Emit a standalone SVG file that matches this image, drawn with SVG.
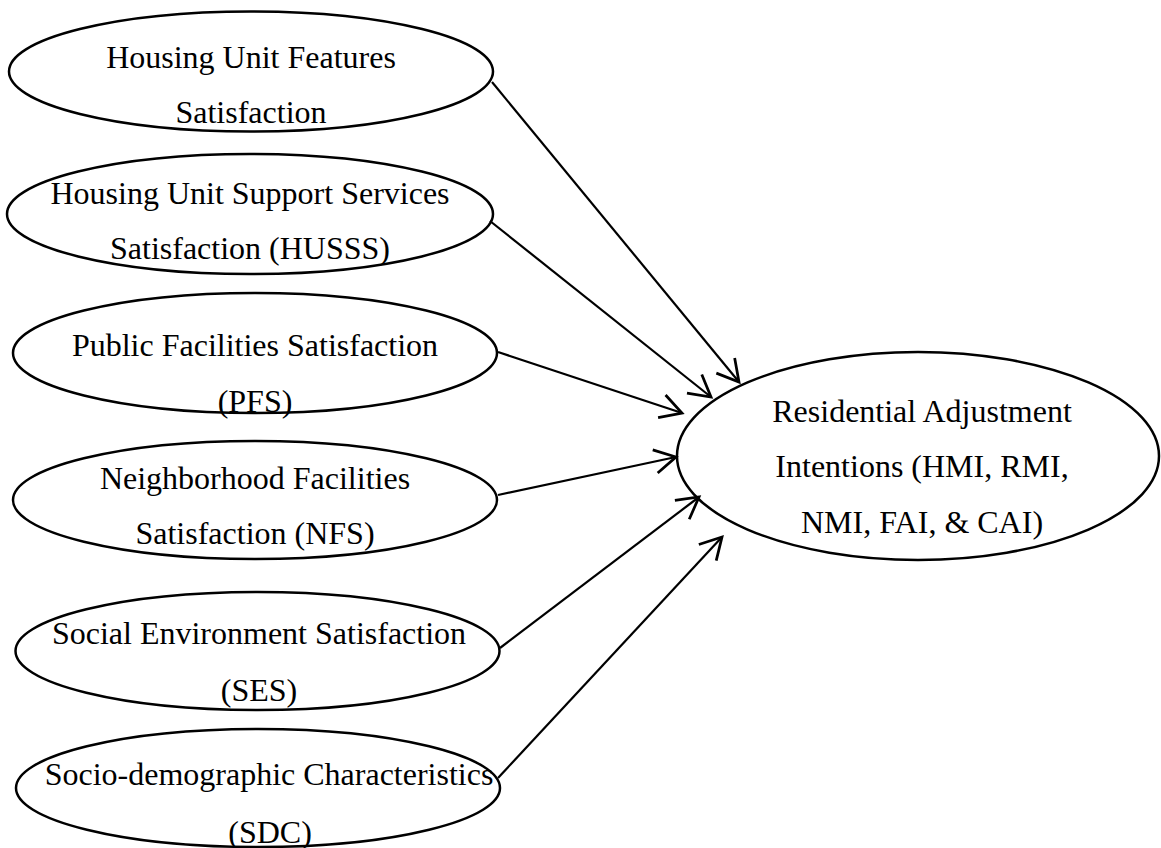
<svg xmlns="http://www.w3.org/2000/svg" width="1161" height="848" viewBox="0 0 1161 848">
<style>
.node ellipse{fill:none;stroke:#000;stroke-width:2.5}
.node text{font-family:"Liberation Serif","Times New Roman",serif;font-size:32px;fill:#000;text-anchor:middle}
#connectors line{stroke:#000;stroke-width:2.2;fill:none;marker-end:url(#arrow)}
</style>
<defs>
<marker id="arrow" markerUnits="userSpaceOnUse" markerWidth="30" markerHeight="30" viewBox="-20 -12 22 24" refX="0" refY="0" orient="auto">
<path d="M-17,-9.5 L0,0 L-17,9.5" fill="none" stroke="#000" stroke-width="2.2"/>
</marker>
</defs>
<rect width="1161" height="848" fill="#fff"/>
<g id="connectors">
<line x1="492" y1="82" x2="739" y2="382"/>
<line x1="490" y1="221" x2="711" y2="397"/>
<line x1="498" y1="352" x2="682" y2="413"/>
<line x1="498" y1="495" x2="676" y2="457"/>
<line x1="500" y1="648" x2="699" y2="497"/>
<line x1="498" y1="778" x2="722" y2="537"/>
</g>
<g id="husf" class="node">
<ellipse cx="251" cy="71.5" rx="242" ry="60"/>
<text x="251" y="68">Housing Unit Features</text>
<text x="251" y="123">Satisfaction</text>
</g>
<g id="husss" class="node">
<ellipse cx="250" cy="214" rx="243" ry="60"/>
<text x="250" y="204">Housing Unit Support Services</text>
<text x="250" y="259">Satisfaction (HUSSS)</text>
</g>
<g id="pfs" class="node">
<ellipse cx="255" cy="353" rx="242" ry="60"/>
<text x="255" y="356">Public Facilities Satisfaction</text>
<text x="255" y="412">(PFS)</text>
</g>
<g id="nfs" class="node">
<ellipse cx="255" cy="500" rx="242" ry="59"/>
<text x="255" y="489">Neighborhood Facilities</text>
<text x="255" y="544">Satisfaction (NFS)</text>
</g>
<g id="ses" class="node">
<ellipse cx="257.5" cy="651" rx="242" ry="59"/>
<text x="259" y="644">Social Environment Satisfaction</text>
<text x="259" y="701">(SES)</text>
</g>
<g id="sdc" class="node">
<ellipse cx="258" cy="788" rx="242" ry="59"/>
<text x="269" y="785">Socio-demographic Characteristics</text>
<text x="270" y="843">(SDC)</text>
</g>
<g id="rai" class="node">
<ellipse cx="918" cy="456" rx="241" ry="104"/>
<text x="922" y="422">Residential Adjustment</text>
<text x="922" y="477">Intentions (HMI, RMI,</text>
<text x="922" y="533">NMI, FAI, &amp; CAI)</text>
</g>
</svg>
